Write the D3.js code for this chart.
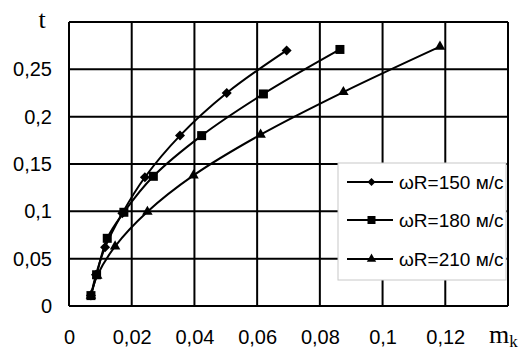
<!DOCTYPE html>
<html>
<head>
<meta charset="utf-8">
<script src="https://cdn.jsdelivr.net/npm/d3@7"></script>
<style>
  body { margin: 0; background: #fff; }
  svg { display: block; }
</style>
</head>
<body>
<div id="chart"></div>
<script>
// data
var xTicks = [0, 0.02, 0.04, 0.06, 0.08, 0.1, 0.12, 0.14];
var yTicks = [0, 0.05, 0.1, 0.15, 0.2, 0.25, 0.3];
var seriesNames = ["ωR=150 м/с", "ωR=180 м/с", "ωR=210 м/с"];
var m150 = [0.007, 0.0086, 0.0115, 0.017, 0.0242, 0.0354, 0.0503, 0.0694];
var t150 = [0.011, 0.033, 0.062, 0.098, 0.136, 0.18, 0.225, 0.27];
var m180 = [0.007, 0.0088, 0.0122, 0.0175, 0.0269, 0.0423, 0.062, 0.0864];
var t180 = [0.011, 0.033, 0.0715, 0.099, 0.137, 0.18, 0.224, 0.271];
var m210 = [0.007, 0.009, 0.0147, 0.025, 0.0397, 0.0611, 0.0875, 0.1183];
var t210 = [0.011, 0.032, 0.063, 0.0996, 0.138, 0.181, 0.226, 0.274];

var width = 531, height = 351;
var margin = { top: 22, right: 23, bottom: 45, left: 69 };
var w = width - margin.left - margin.right,
    h = height - margin.top - margin.bottom;

var fmt = function(d) { return String(d).replace(".", ","); };

var svg = d3.select("#chart").append("svg")
    .attr("width", width)
    .attr("height", height);

var x = d3.scaleLinear().domain([0, 0.14]).range([0, w]);
var y = d3.scaleLinear().domain([0, 0.3]).range([h, 0]);

var g = svg.append("g")
    .attr("transform", "translate(" + margin.left + "," + margin.top + ")");

// grid
g.selectAll("line.gx").data(xTicks).enter().append("line")
    .attr("class", "gx")
    .attr("x1", function(d) { return x(d); }).attr("x2", function(d) { return x(d); })
    .attr("y1", 0).attr("y2", h)
    .attr("stroke", "#000").attr("stroke-width", 2);
g.selectAll("line.gy").data(yTicks).enter().append("line")
    .attr("class", "gy")
    .attr("x1", 0).attr("x2", w)
    .attr("y1", function(d) { return y(d); }).attr("y2", function(d) { return y(d); })
    .attr("stroke", "#000").attr("stroke-width", 2);

// tick labels
var xAxis = g.append("g")
    .attr("transform", "translate(0," + h + ")")
    .call(d3.axisBottom(x).tickValues(xTicks.slice(0, 7)).tickFormat(fmt).tickSize(0).tickPadding(24));
var yAxis = g.append("g")
    .call(d3.axisLeft(y).tickValues(yTicks.slice(0, 6)).tickFormat(fmt).tickSize(0).tickPadding(17));
[xAxis, yAxis].forEach(function(a) {
    a.select(".domain").remove();
    a.selectAll("text")
        .attr("font-family", "'Liberation Sans', Arial, sans-serif")
        .attr("font-size", "20px")
        .attr("fill", "#000");
});

// series
var series = [
    { name: seriesNames[0], m: m150, t: t150, sym: d3.symbolDiamond2, size: 64, lsize: 40 },
    { name: seriesNames[1], m: m180, t: t180, sym: d3.symbolSquare, size: 81, lsize: 64 },
    { name: seriesNames[2], m: m210, t: t210, sym: d3.symbolTriangle, size: 48, lsize: 38 }
];

var line = d3.line()
    .x(function(d) { return x(d[0]); })
    .y(function(d) { return y(d[1]); })
    .curve(d3.curveCatmullRom.alpha(0.5));

series.forEach(function(s) {
    var pts = s.m.map(function(v, i) { return [v, s.t[i]]; });
    g.append("path")
        .datum(pts)
        .attr("d", line)
        .attr("fill", "none")
        .attr("stroke", "#000")
        .attr("stroke-width", 2);
    g.selectAll(null).data(pts).enter().append("path")
        .attr("d", d3.symbol().type(s.sym).size(s.size))
        .attr("transform", function(d) { return "translate(" + x(d[0]) + "," + y(d[1]) + ")"; })
        .attr("fill", "#000");
});

// legend
var leg = svg.append("g").attr("transform", "translate(338,163)");
leg.append("rect")
    .attr("width", 168).attr("height", 117)
    .attr("fill", "#fff")
    .attr("stroke", "#c8c8c8").attr("stroke-width", 1);
var rows = [19, 57, 96];
series.forEach(function(s, i) {
    var r = leg.append("g").attr("transform", "translate(0," + rows[i] + ")");
    r.append("line").attr("x1", 9).attr("x2", 55)
        .attr("stroke", "#000").attr("stroke-width", 2);
    r.append("path")
        .attr("d", d3.symbol().type(s.sym).size(s.lsize))
        .attr("transform", "translate(33.5,0)")
        .attr("fill", "#000");
    r.append("text")
        .attr("x", 61).attr("y", 0).attr("dy", "0.35em")
        .attr("font-family", "'Liberation Sans', Arial, sans-serif")
        .attr("font-size", "19px")
        .text(s.name);
});

// axis titles
svg.append("text")
    .attr("x", 42).attr("y", 28)
    .attr("text-anchor", "middle")
    .attr("font-family", "'Liberation Serif', 'Times New Roman', serif")
    .attr("font-size", "26px")
    .text("t");
var mt = svg.append("text")
    .attr("x", 489).attr("y", 343)
    .attr("font-family", "'Liberation Serif', 'Times New Roman', serif")
    .attr("font-size", "26px")
    .text("m");
mt.append("tspan").attr("dy", 4).attr("font-size", "17px").text("k");
</script>
</body>
</html>
